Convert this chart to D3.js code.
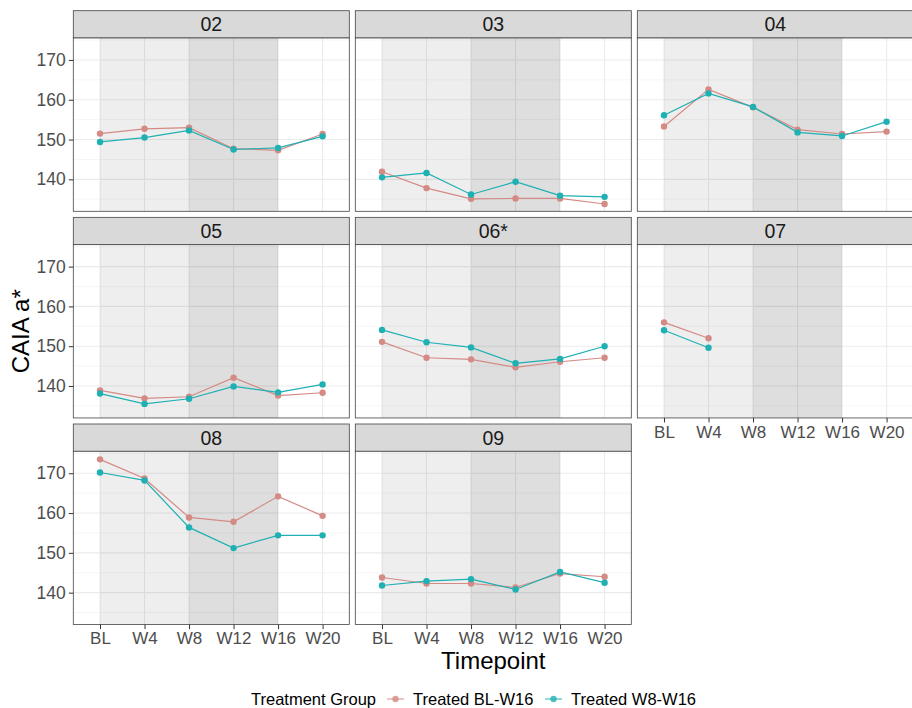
<!DOCTYPE html>
<html>
<head>
<meta charset="utf-8">
<script src="https://cdn.jsdelivr.net/npm/d3@7"></script>
<style>
  body { margin: 0; background: #fff; }
  svg text { font-family: "Liberation Sans", Arial, sans-serif; }
</style>
</head>
<body>
<div class="chart"></div>
<script>
const TIMEPOINTS = ["BL", "W4", "W8", "W12", "W16", "W20"];
const SUBJECTS = ["02", "03", "04", "05", "06*", "07", "08", "09"];
const GROUPS = ["Treated BL-W16", "Treated W8-W16"];
const Y_TICKS = [140, 150, 160, 170];

// CAIA a* per subject, one value per timepoint (null = not measured)
const treatedBL = [
  [151.5, 152.7, 153.0, 147.7, 147.3, 151.4],
  [141.9, 137.8, 135.1, 135.2, 135.2, 133.8],
  [153.3, 162.6, 158.1, 152.5, 151.4, 152.0],
  [138.9, 136.9, 137.3, 142.1, 137.6, 138.3],
  [151.1, 147.1, 146.7, 144.7, 146.1, 147.1],
  [156.0, 152.0, null, null, null, null],
  [173.5, 168.7, 158.9, 157.8, 164.2, 159.3],
  [143.8, 142.3, 142.3, 141.3, 144.8, 144.0]
];
const treatedW8 = [
  [149.4, 150.5, 152.3, 147.5, 147.9, 150.8],
  [140.5, 141.6, 136.2, 139.4, 135.9, 135.6],
  [156.1, 161.6, 158.2, 151.8, 150.9, 154.5],
  [138.1, 135.5, 136.8, 139.9, 138.4, 140.4],
  [154.1, 151.0, 149.7, 145.7, 146.8, 150.0],
  [154.0, 149.6, null, null, null, null],
  [170.2, 168.2, 156.4, 151.2, 154.4, 154.4],
  [141.8, 142.9, 143.4, 140.8, 145.2, 142.5]
];

const WIDTH = 912, HEIGHT = 708;
const PANEL = { left: 73.3, width: 276, gapX: 6, top: 10.7, rowStep: 206.65, strip: 27.3, height: 173.3 };
const NCOL = 3;
const colors = ["#D48A85", "#1FB0B3"];

const svg = d3.select(".chart").append("svg")
  .attr("width", WIDTH).attr("height", HEIGHT);

const xScale = d3.scalePoint().domain(TIMEPOINTS).range([0, PANEL.width]).padding(0.6);
const yScale = d3.scaleLinear().domain([131.97, 175.52]).range([PANEL.height, 0]);
const minorTicks = [135, 145, 155, 165, 175];

const line = d3.line()
  .defined((d) => d.v != null)
  .x((d) => xScale(d.t))
  .y((d) => yScale(d.v));

SUBJECTS.forEach((subj, i) => {
  const col = i % NCOL, row = Math.floor(i / NCOL);
  const px = PANEL.left + col * (PANEL.width + PANEL.gapX);
  const sy = PANEL.top + row * PANEL.rowStep;
  const py = sy + PANEL.strip;

  // strip
  svg.append("rect")
    .attr("x", px).attr("y", sy).attr("width", PANEL.width).attr("height", PANEL.strip)
    .attr("fill", "#D9D9D9").attr("stroke", "#444").attr("stroke-width", 0.8);
  svg.append("text")
    .attr("x", px + PANEL.width / 2).attr("y", sy + PANEL.strip / 2 + 7)
    .attr("text-anchor", "middle").attr("font-size", 19.5).attr("fill", "#1A1A1A")
    .text(subj);

  const g = svg.append("g").attr("transform", `translate(${px},${py})`);
  g.append("rect").attr("width", PANEL.width).attr("height", PANEL.height).attr("fill", "#fff");

  // grid
  g.selectAll(".minor").data(minorTicks).enter().append("line")
    .attr("x1", 0).attr("x2", PANEL.width)
    .attr("y1", (d) => yScale(d)).attr("y2", (d) => yScale(d))
    .attr("stroke", "#F4F4F4").attr("stroke-width", 0.8);
  g.selectAll(".major").data(Y_TICKS).enter().append("line")
    .attr("x1", 0).attr("x2", PANEL.width)
    .attr("y1", (d) => yScale(d)).attr("y2", (d) => yScale(d))
    .attr("stroke", "#EBEBEB").attr("stroke-width", 1.1);
  g.selectAll(".vmajor").data(TIMEPOINTS).enter().append("line")
    .attr("y1", 0).attr("y2", PANEL.height)
    .attr("x1", (d) => xScale(d)).attr("x2", (d) => xScale(d))
    .attr("stroke", "#EBEBEB").attr("stroke-width", 1.1);

  // treatment windows
  g.append("rect")
    .attr("x", xScale("BL")).attr("width", xScale("W16") - xScale("BL"))
    .attr("y", 0).attr("height", PANEL.height)
    .attr("fill", "#000").attr("opacity", 0.067);
  g.append("rect")
    .attr("x", xScale("W8")).attr("width", xScale("W16") - xScale("W8"))
    .attr("y", 0).attr("height", PANEL.height)
    .attr("fill", "#000").attr("opacity", 0.067);

  const series = [treatedBL[i], treatedW8[i]].map((vals) =>
    vals.map((v, k) => ({ t: TIMEPOINTS[k], v })));

  series.forEach((s, k) => {
    g.append("path").datum(s).attr("d", line)
      .attr("fill", "none").attr("stroke", colors[k]).attr("stroke-width", 1.2);
  });
  series.forEach((s, k) => {
    g.selectAll(".pt" + k).data(s.filter((d) => d.v != null)).enter().append("circle")
      .attr("cx", (d) => xScale(d.t)).attr("cy", (d) => yScale(d.v))
      .attr("r", 3.2).attr("fill", colors[k]);
  });

  g.append("rect").attr("width", PANEL.width).attr("height", PANEL.height)
    .attr("fill", "none").attr("stroke", "#444").attr("stroke-width", 0.8);

  // axes
  if (col === 0) {
    const yAxis = g.append("g").call(d3.axisLeft(yScale).tickValues(Y_TICKS).tickSize(4.5).tickPadding(3));
    yAxis.select(".domain").remove();
    yAxis.selectAll("line").attr("stroke", "#333");
    yAxis.selectAll("text").attr("font-size", 17.5).attr("fill", "#4D4D4D")
      .attr("font-family", "Liberation Sans, Arial, sans-serif");
  }
  const hasBelow = i + NCOL < SUBJECTS.length;
  if (!hasBelow) {
    const xAxis = g.append("g").attr("transform", `translate(0,${PANEL.height})`)
      .call(d3.axisBottom(xScale).tickSize(4.5).tickPadding(3));
    xAxis.select(".domain").remove();
    xAxis.selectAll("line").attr("stroke", "#333");
    xAxis.selectAll("text").attr("font-size", 17).attr("fill", "#4D4D4D")
      .attr("font-family", "Liberation Sans, Arial, sans-serif");
  }
});

// axis titles
const panelsRight = PANEL.left + NCOL * PANEL.width + (NCOL - 1) * PANEL.gapX;
svg.append("text")
  .attr("x", (PANEL.left + panelsRight) / 2).attr("y", 669)
  .attr("text-anchor", "middle").attr("font-size", 24).attr("fill", "#000")
  .text("Timepoint");
const yMid = (PANEL.top + PANEL.strip + PANEL.top + 2 * PANEL.rowStep + PANEL.strip + PANEL.height) / 2;
svg.append("text")
  .attr("transform", `translate(29,${yMid}) rotate(-90)`)
  .attr("text-anchor", "middle").attr("font-size", 24).attr("fill", "#000")
  .text("CAIA a*");

// legend
const legend = svg.append("g").attr("transform", "translate(251,705)");
legend.append("text").attr("x", 0).attr("y", 0).attr("font-size", 16.5).attr("fill", "#000")
  .text("Treatment Group");
const keyX = [136, 294];
GROUPS.forEach((grp, k) => {
  const kx = keyX[k];
  legend.append("line").attr("x1", kx).attr("x2", kx + 17).attr("y1", -6).attr("y2", -6)
    .attr("stroke", colors[k]).attr("stroke-width", 1.2).attr("opacity", 0.8);
  legend.append("circle").attr("cx", kx + 8.5).attr("cy", -6).attr("r", 3.2)
    .attr("fill", colors[k]).attr("opacity", 0.8);
  legend.append("text").attr("x", kx + 26).attr("y", 0).attr("font-size", 16.5).attr("fill", "#000")
    .text(grp);
});
</script>
</body>
</html>
